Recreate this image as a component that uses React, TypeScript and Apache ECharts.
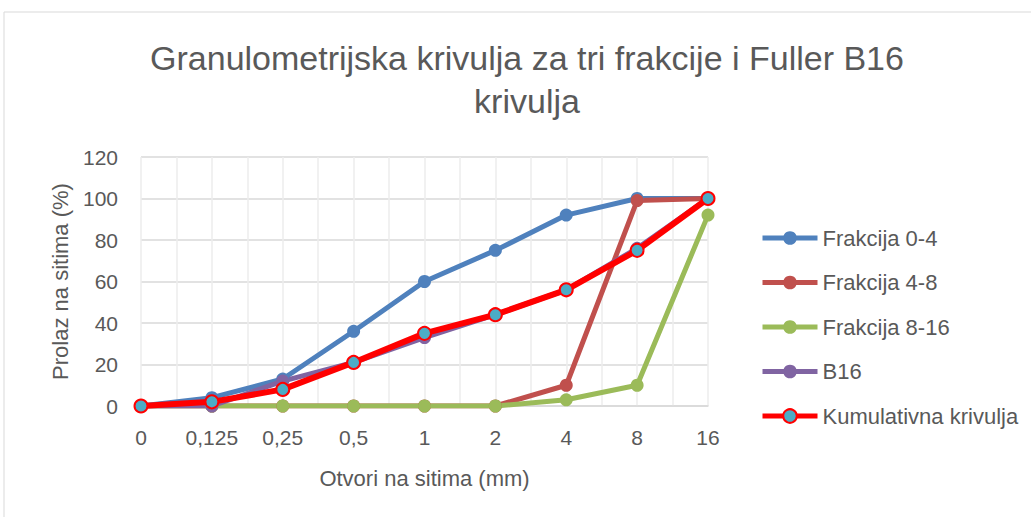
import React, { useEffect, useRef } from "react";
import * as echarts from "echarts";

const categories = ["0", "0,125", "0,25", "0,5", "1", "2", "4", "8", "16"];
const frakcija04 = [0, 4, 13, 36, 60, 75, 92, 100, 100];
const frakcija48 = [0, 0, 0, 0, 0, 0, 10, 99, 100];
const frakcija816 = [0, 0, 0, 0, 0, 0, 3, 10, 92];
const b16 = [0, 0, 12, 21, 33, 44, 56, 76, 100];
const kumulativna = [0, 2, 8, 21, 35, 44, 56, 75, 100];
const titleText = "Granulometrijska krivulja za tri frakcije i Fuller B16\nkrivulja";

const FONT = "'Liberation Sans', Arial, sans-serif";
const GREY = "#595959";

export default function App() {
  const ref = useRef<HTMLDivElement>(null);
  useEffect(() => {
    document.body.style.margin = "0";
    const chart = echarts.init(ref.current!, null, { renderer: "svg" });
    const mk = (name: string, data: number[], color: string) => ({
      name,
      type: "line",
      data,
      xAxisIndex: 0,
      symbol: "circle",
      symbolSize: 13,
      itemStyle: { color },
      lineStyle: { color, width: 5 },
      z: 2,
    });
    chart.setOption({
      animation: false,
      backgroundColor: "#ffffff",
      textStyle: { fontFamily: FONT },
      title: {
        text: titleText,
        left: 522,
        textAlign: "center",
        top: 31,
        textStyle: { fontSize: 34, fontWeight: "normal", color: GREY, lineHeight: 43, fontFamily: FONT },
      },
      graphic: [
        {
          type: "rect",
          shape: { x: 4, y: 12, width: 1040, height: 520 },
          style: { fill: "none", stroke: "#d9d9d9", lineWidth: 1 },
          silent: true,
          z: -1,
        },
      ],
      legend: {
        orient: "vertical",
        left: 755,
        top: 222,
        itemWidth: 55,
        itemHeight: 17,
        itemGap: 22.5,
        lineStyle: { width: 5 },
        textStyle: { fontSize: 22, color: GREY, fontFamily: FONT },
        data: ["Frakcija 0-4", "Frakcija 4-8", "Frakcija 8-16", "B16", "Kumulativna krivulja"],
      },
      grid: { left: 141, right: 323, top: 157, bottom: 111 },
      xAxis: [
        {
          type: "category",
          data: categories,
          boundaryGap: false,
          name: "Otvori na sitima (mm)",
          nameLocation: "middle",
          nameGap: 61,
          nameTextStyle: { fontSize: 22, color: GREY },
          axisLine: { lineStyle: { color: "#d9d9d9", width: 1.5 } },
          axisTick: { show: false },
          axisLabel: { fontSize: 21, color: GREY, margin: 21 },
          splitLine: { show: false },
        },
        {
          type: "value",
          min: 0,
          max: 8,
          interval: 0.5,
          position: "bottom",
          axisLine: { show: false },
          axisTick: { show: false },
          axisLabel: { show: false },
          splitLine: { show: true, lineStyle: { color: "#ececec", width: 1.5 } },
        },
      ],
      yAxis: {
        type: "value",
        min: 0,
        max: 120,
        interval: 20,
        name: "Prolaz na sitima (%)",
        nameLocation: "middle",
        nameGap: 70,
        nameTextStyle: { fontSize: 22, color: GREY },
        axisLine: { show: false },
        axisTick: { show: false },
        axisLabel: { fontSize: 21, color: GREY, margin: 23 },
        splitLine: { lineStyle: { color: "#d9d9d9", width: 1.5 } },
      },
      series: [
        mk("Frakcija 0-4", frakcija04, "#4F81BD"),
        mk("Frakcija 4-8", frakcija48, "#C0504D"),
        mk("Frakcija 8-16", frakcija816, "#9BBB59"),
        mk("B16", b16, "#8064A2"),
        {
          name: "Kumulativna krivulja",
          type: "line",
          data: kumulativna,
          xAxisIndex: 0,
          symbol: "circle",
          symbolSize: 13,
          itemStyle: { color: "#4BACC6", borderColor: "#FF0000", borderWidth: 2 },
          lineStyle: { color: "#FF0000", width: 6 },
          z: 3,
        },
      ],
    });
    return () => chart.dispose();
  }, []);
  return <div ref={ref} style={{ width: 1031, height: 517 }} />;
}
